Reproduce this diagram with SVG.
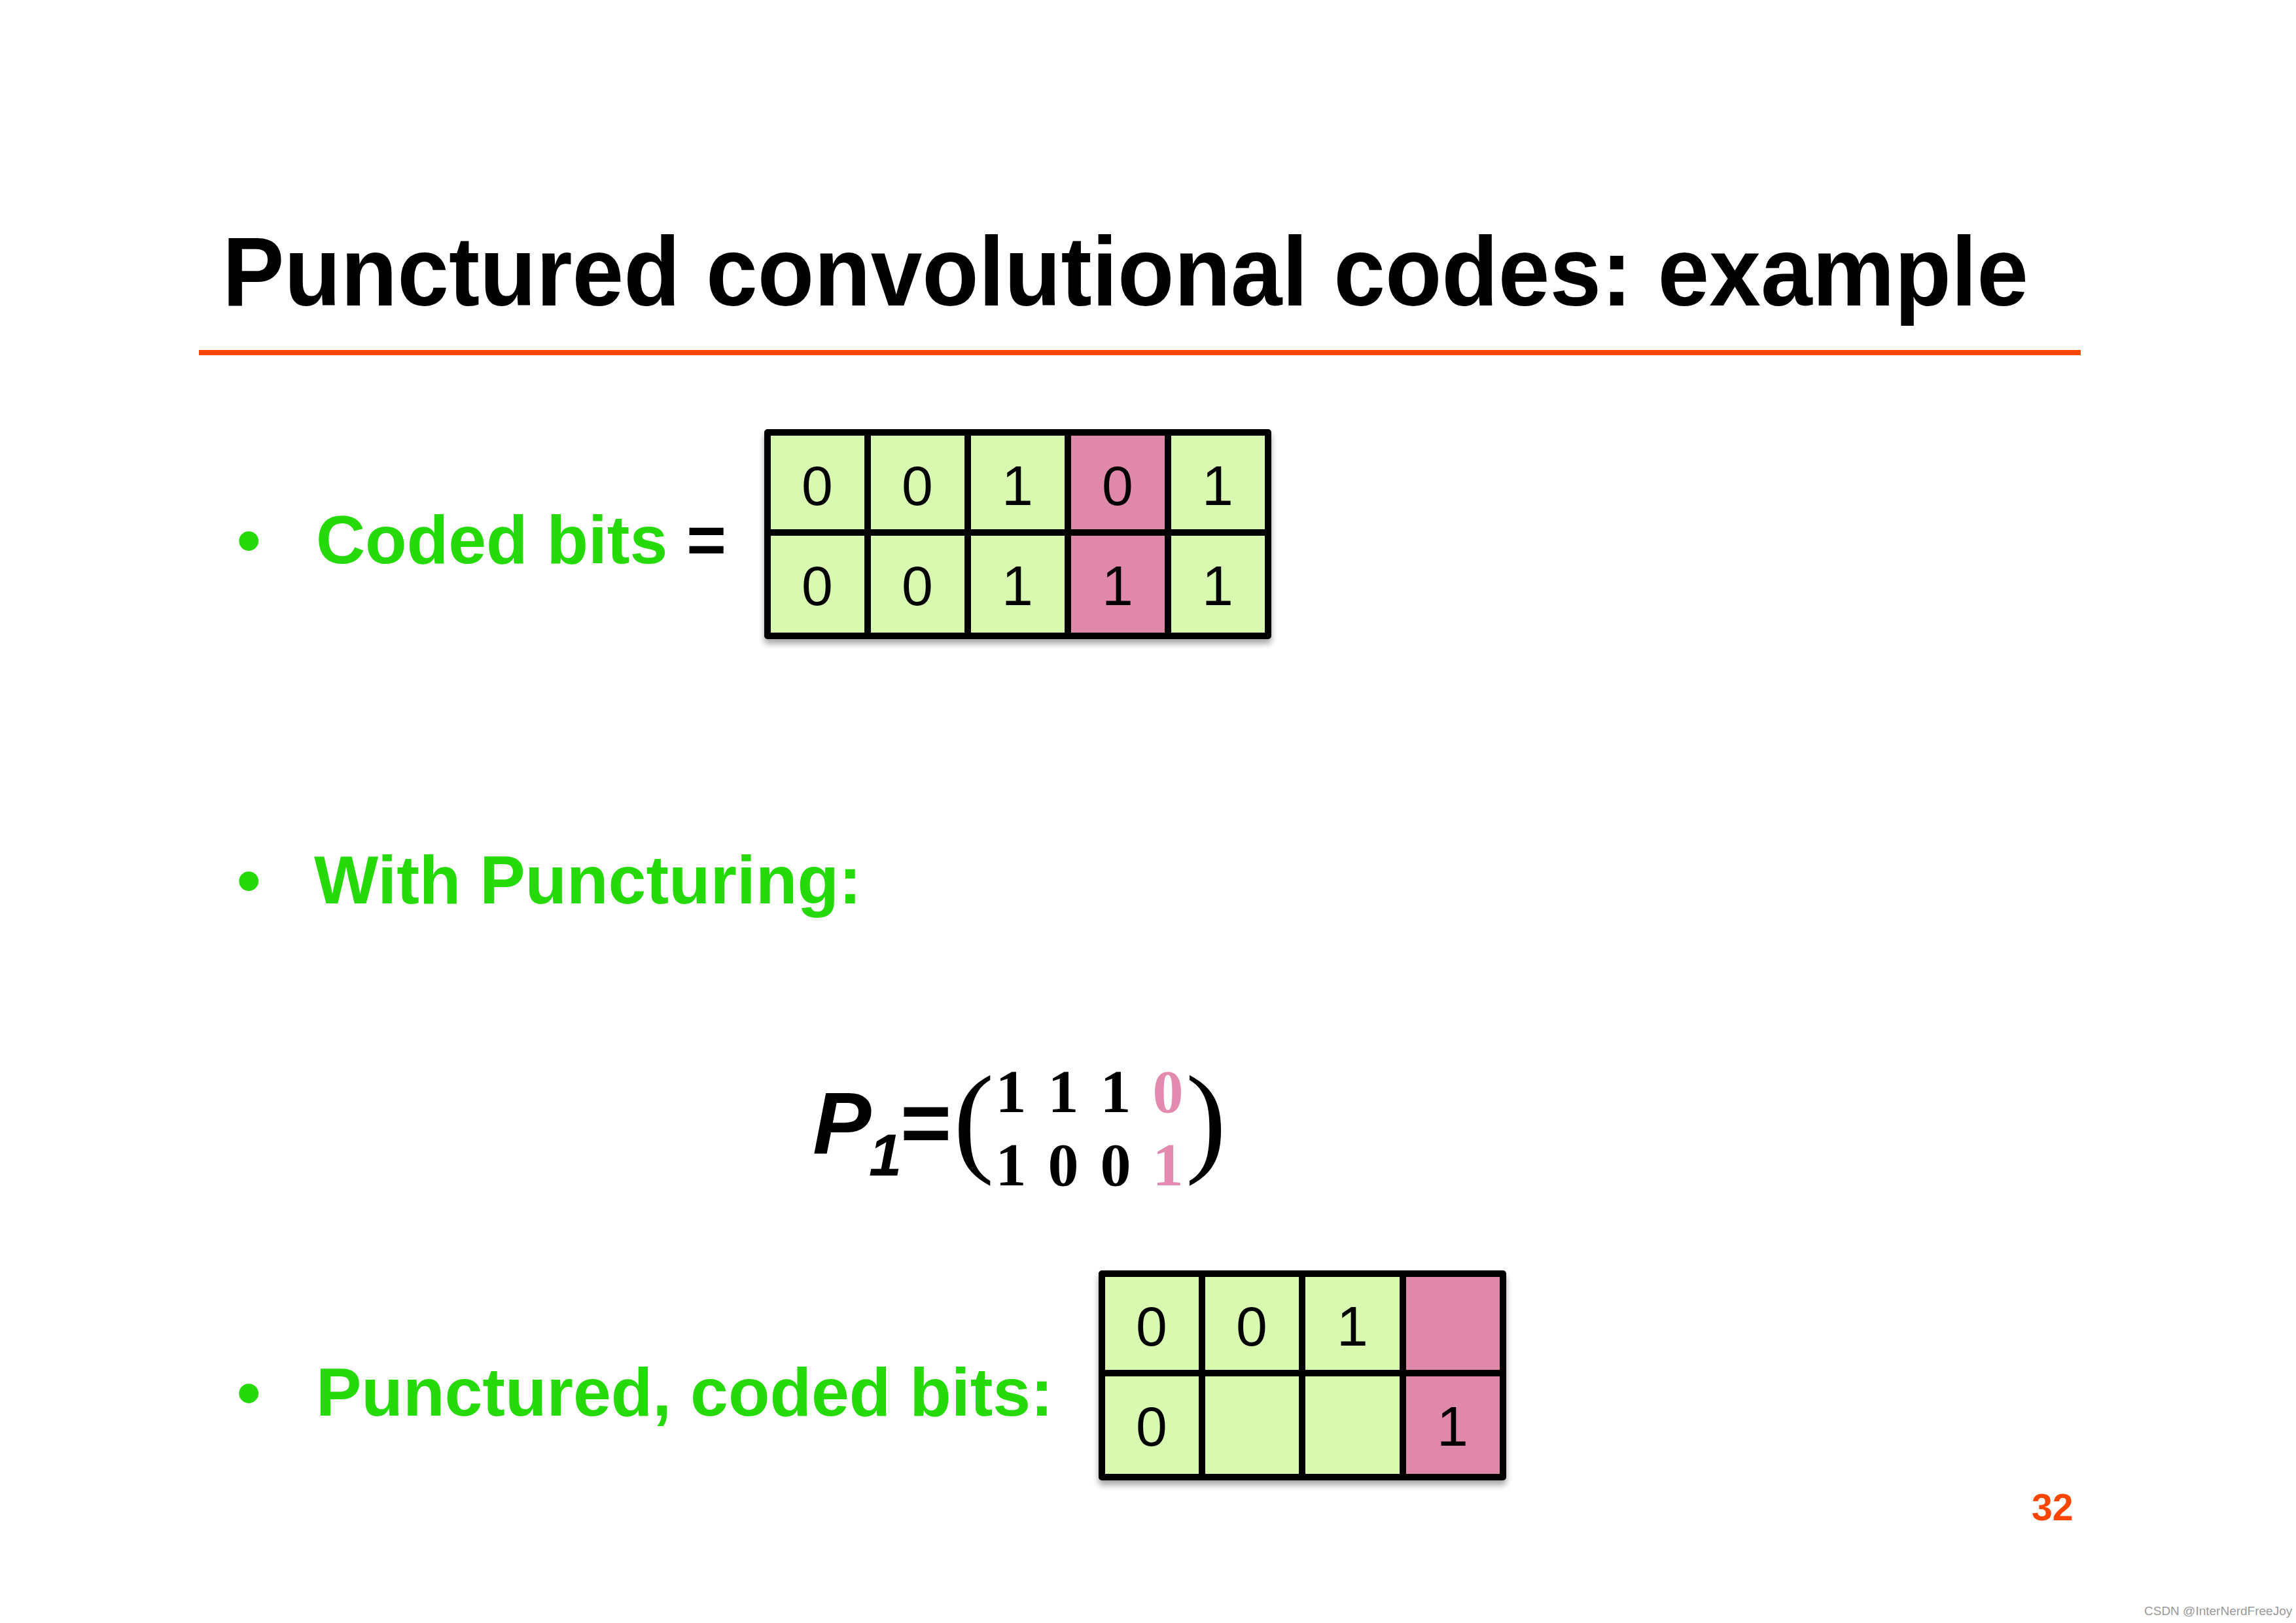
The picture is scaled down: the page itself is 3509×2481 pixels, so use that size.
<svg xmlns="http://www.w3.org/2000/svg" width="3509" height="2481" viewBox="0 0 3509 2481">
<style>
.title{font-family:"Liberation Sans",Arial,sans-serif;font-weight:bold;font-size:150px;fill:#000}
.bul{font-family:"Liberation Sans",Arial,sans-serif;font-weight:bold;font-size:104px;fill:#26DA0A}
.cell{font-family:"Liberation Sans",Arial,sans-serif;font-size:86px;fill:#000;text-anchor:middle}
.g{fill:#D9F9B0}
.p{fill:#E088A9}
.grid{fill:none;stroke:#000;stroke-width:10;stroke-linejoin:round}
.mx{font-family:"Liberation Serif","Times New Roman",serif;font-weight:bold;font-size:94px;fill:#000;text-anchor:middle}
.pk{fill:#E38AAE}
.par{font-family:"Liberation Serif","Times New Roman",serif;font-size:187px;fill:#000}
</style>
<defs>
<filter id="sh" x="-5%" y="-5%" width="110%" height="120%">
<feDropShadow dx="0" dy="7" stdDeviation="5" flood-color="#000" flood-opacity="0.35"/>
</filter>
</defs>
<rect width="3509" height="2481" fill="#fff"/>
<g id="title">
<text class="title" x="340" y="467" textLength="2760" lengthAdjust="spacingAndGlyphs">Punctured convolutional codes: example</text>
<rect x="304" y="535" width="2876" height="8" fill="#FF4500"/>
</g>
<g id="bullet-coded">
<text class="bul" x="362" y="861">•</text>
<text class="bul" x="483" y="861">Coded bits <tspan fill="#000">=</tspan></text>
</g>
<g id="table-coded" filter="url(#sh)">
<rect class="g" x="1173" y="661" width="765" height="311"/>
<rect class="p" x="1632" y="661" width="153" height="311"/>
<path class="grid" d="M1173 661H1938V972H1173Z M1173 814H1938 M1326 661V972 M1479 661V972 M1632 661V972 M1785 661V972"/>
<text class="cell" x="1249" y="772">0</text>
<text class="cell" x="1402" y="772">0</text>
<text class="cell" x="1555" y="772">1</text>
<text class="cell" x="1708" y="772">0</text>
<text class="cell" x="1861" y="772">1</text>
<text class="cell" x="1249" y="925">0</text>
<text class="cell" x="1402" y="925">0</text>
<text class="cell" x="1555" y="925">1</text>
<text class="cell" x="1708" y="925">1</text>
<text class="cell" x="1861" y="925">1</text>
</g>
<g id="bullet-with">
<text class="bul" x="362" y="1381">•</text>
<text class="bul" x="480" y="1381">With Puncturing:</text>
</g>
<g id="matrix">
<text x="1242" y="1763" font-family="Liberation Sans,Arial,sans-serif" font-weight="bold" font-style="italic" font-size="134">P</text>
<text x="1328" y="1797" font-family="Liberation Sans,Arial,sans-serif" font-weight="bold" font-style="italic" font-size="90">1</text>
<text x="1376" y="1762" font-family="Liberation Sans,Arial,sans-serif" font-weight="bold" font-size="134">=</text>
<text class="par" x="1457" y="1773">(</text>
<text class="par" x="1812" y="1773">)</text>
<text class="mx" x="1545" y="1700">1</text>
<text class="mx" x="1625" y="1700">1</text>
<text class="mx" x="1705" y="1700">1</text>
<text class="mx pk" x="1785" y="1700">0</text>
<text class="mx" x="1545" y="1812">1</text>
<text class="mx" x="1625" y="1812">0</text>
<text class="mx" x="1705" y="1812">0</text>
<text class="mx pk" x="1785" y="1812">1</text>
</g>
<g id="bullet-punctured">
<text class="bul" x="362" y="2164">•</text>
<text class="bul" x="483" y="2164">Punctured, coded bits:</text>
</g>
<g id="table-punctured" filter="url(#sh)">
<rect class="g" x="1684" y="1947" width="613" height="311"/>
<rect class="p" x="2144" y="1947" width="153" height="311"/>
<path class="grid" d="M1684 1947H2297V2258H1684Z M1684 2099H2297 M1837 1947V2258 M1990 1947V2258 M2144 1947V2258"/>
<text class="cell" x="1760" y="2057">0</text>
<text class="cell" x="1913" y="2057">0</text>
<text class="cell" x="2067" y="2057">1</text>
<text class="cell" x="1760" y="2210">0</text>
<text class="cell" x="2220" y="2210">1</text>
</g>
<g id="page">
<text x="3105" y="2324" font-family="Liberation Sans,Arial,sans-serif" font-weight="bold" font-size="57" fill="#FF4500">32</text>
<text x="3277" y="2469" font-family="Liberation Sans,Arial,sans-serif" font-size="19" fill="#999">CSDN @InterNerdFreeJoy</text>
</g>
</svg>
